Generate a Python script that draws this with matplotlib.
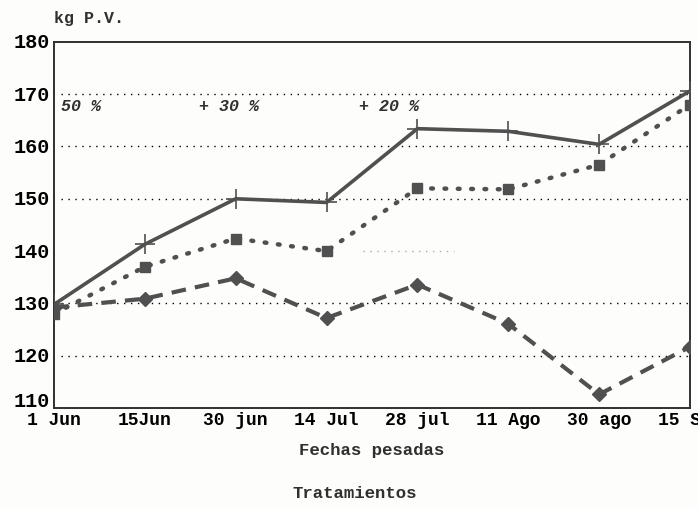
"""
Peso vivo por tratamiento - fechas de pesada
"""

import matplotlib.pyplot as plt
from matplotlib.transforms import ScaledTranslation

# ============================================================================
# DATA
# ============================================================================

FECHAS = ["1 Jun", "15Jun", "30 jun", "14 Jul", "28 jul", "11 Ago", "30 ago", "15 Sep"]

SERIE_CRUZ = [129.8, 141.3, 150.0, 149.3, 163.4, 162.9, 160.4, 170.6]
SERIE_CUADRADO = [128.0, 137.0, 142.4, 140.0, 152.0, 151.8, 156.5, 168.0]
SERIE_ROMBO = [129.2, 130.9, 134.8, 127.2, 133.6, 126.1, 112.6, 121.7]

GRID_Y = [120, 130, 150, 160, 170]
NOTAS = ["50 %", "+ 30 %", "+ 20 %"]

# ============================================================================

FONT = "Liberation Mono"
GRAY = "#505050"


def main():
    fig = plt.figure(figsize=(6.98, 5.10), dpi=100, facecolor="#fdfdfb")
    ax = fig.add_axes([0.0774, 0.198, 0.911, 0.718])
    ax.set_facecolor("#fdfdfb")

    x = list(range(len(FECHAS)))

    # gridlines (dotted)
    for gy in GRID_Y:
        ax.plot([0.08, len(FECHAS) - 1], [gy, gy], color="black",
                linestyle=(0, (1, 4)), linewidth=1.0, zorder=1)
    # faint leftover piece at 140
    ax.plot([3.4, 4.4], [140, 140], color="#aaaaaa",
            linestyle=(0, (1, 4)), linewidth=1.0, zorder=1)

    ax.plot(x, SERIE_CRUZ, color=GRAY, linewidth=2.6, marker="+",
            markersize=14, markeredgewidth=1.2, zorder=4)
    ax.plot(x, SERIE_CUADRADO, color=GRAY, linewidth=3.2,
            linestyle=(0, (0.4, 2.6)), dash_capstyle="round",
            marker="s", markersize=7, zorder=3)
    ax.plot(x, SERIE_ROMBO, color=GRAY, linewidth=3.0,
            linestyle=(0, (3.5, 2.2)), marker="D", markersize=7, zorder=3)

    ax.set_xlim(0, len(FECHAS) - 1)
    ax.set_ylim(110, 180)
    ax.set_xticks(x)
    ax.set_xticklabels(FECHAS, fontfamily=FONT, fontweight="bold", fontsize=13)
    ax.set_yticks(range(110, 181, 10))
    ax.set_yticklabels([str(v) for v in range(110, 181, 10)],
                       fontfamily=FONT, fontweight="bold", fontsize=14.5)
    ax.tick_params(length=0, pad=3)
    ax.tick_params(axis="x", pad=2)
    ylabels = ax.get_yticklabels()
    for lbl in ylabels:
        lbl.set_verticalalignment("center")
    # lowest label sits above the axis line, clear of "1 Jun"
    ylabels[0].set_verticalalignment("bottom")
    ylabels[0].set_transform(ylabels[0].get_transform() +
                             ScaledTranslation(0, -0.02, fig.dpi_scale_trans))

    for s in ax.spines.values():
        s.set_color("#303030")
        s.set_linewidth(1.4)

    # treatment notes
    note_x = [0.08, 1.6, 3.36]
    for nx, txt in zip(note_x, NOTAS):
        ax.text(nx, 166.9, txt, fontfamily=FONT, fontweight="bold",
                fontstyle="italic", fontsize=12, color="#303030")

    fig.text(0.078, 0.955, "kg P.V.", fontfamily=FONT, fontweight="bold",
             fontsize=12, color="#303030")
    fig.text(0.533, 0.107, "Fechas pesadas", fontfamily=FONT, fontweight="bold",
             fontsize=12.5, ha="center", color="#303030")
    fig.text(0.508, 0.024, "Tratamientos", fontfamily=FONT, fontweight="bold",
             fontsize=12.5, ha="center", color="#303030")

    plt.savefig("out.png", dpi=100, facecolor=fig.get_facecolor())
    plt.close()


if __name__ == "__main__":
    main()
